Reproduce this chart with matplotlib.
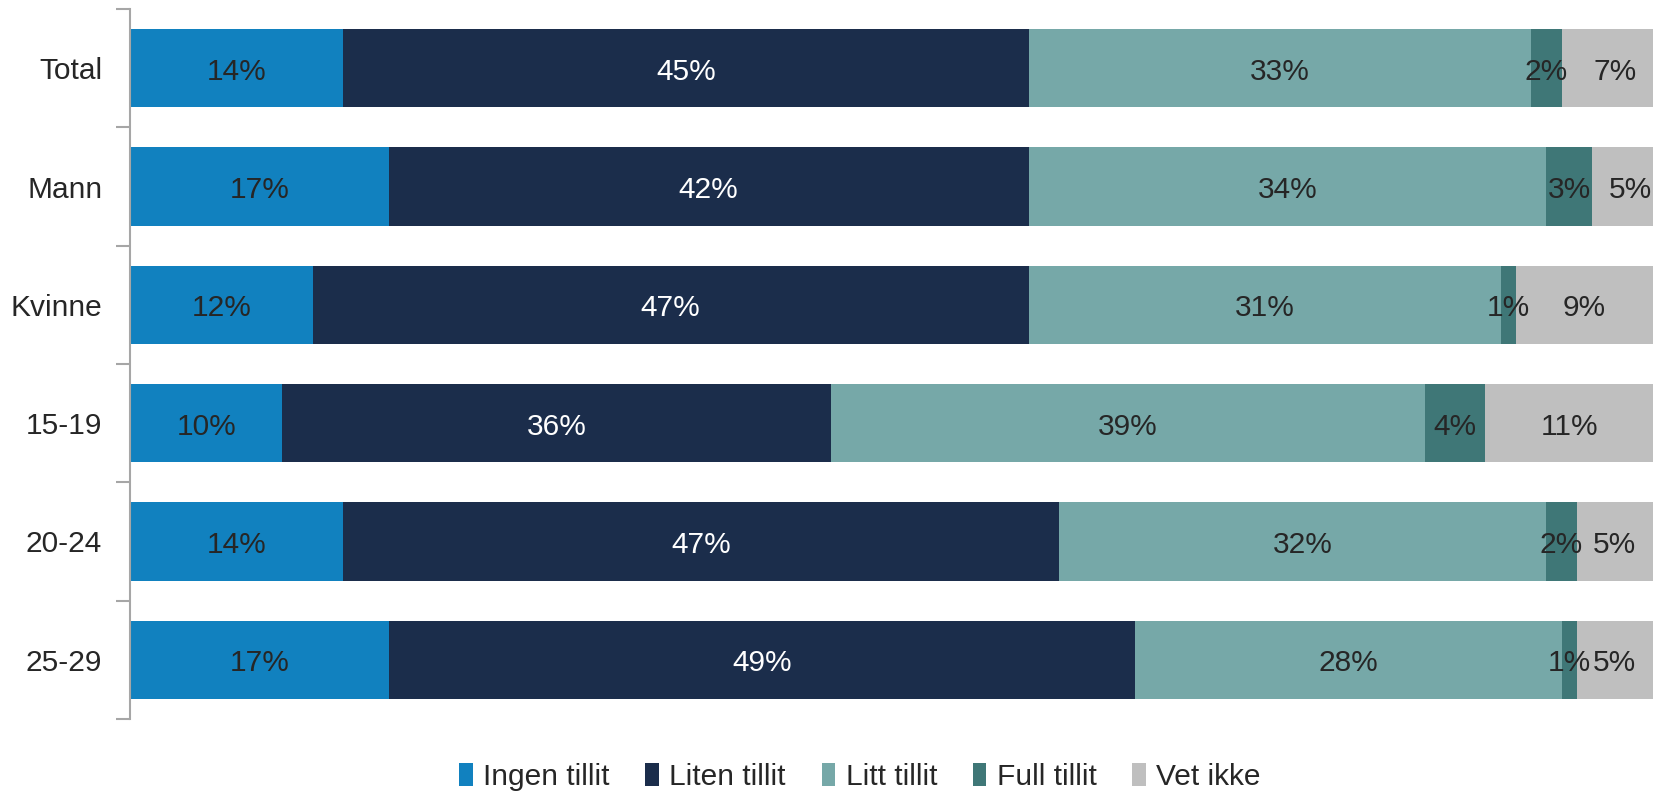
import matplotlib
matplotlib.use("Agg")
import matplotlib.pyplot as plt
from matplotlib.patches import Patch
import numpy as np

plt.rcParams['font.family'] = ['Liberation Sans', 'DejaVu Sans']

categories = ["Total", "Mann", "Kvinne", "15-19", "20-24", "25-29"]
series = ["Ingen tillit", "Liten tillit", "Litt tillit", "Full tillit", "Vet ikke"]
ingen = [14, 17, 12, 10, 14, 17]
liten = [45, 42, 47, 36, 47, 49]
litt = [33, 34, 31, 39, 32, 28]
full = [2, 3, 1, 4, 2, 1]
vet = [7, 5, 9, 11, 5, 5]
values = [ingen, liten, litt, full, vet]
colors = ["#1181BF", "#1B2D4B", "#76A8A8", "#3F7777", "#BFBFBF"]
label_colors = ["#262626", "white", "#262626", "#262626", "#262626"]

W, H = 1653, 791
fig = plt.figure(figsize=(W / 100, H / 100), dpi=100)
ax = fig.add_axes([130 / W, (H - 719) / H, 1 - 130 / W, (719 - 9) / H])

y = np.arange(len(categories))
left = np.zeros(len(categories))
for vals, col, lc in zip(values, colors, label_colors):
    vals = np.array(vals, dtype=float)
    ax.barh(y, vals, left=left, height=0.66, color=col, edgecolor='none')
    for yi, (l, v) in enumerate(zip(left, vals)):
        ax.text(l + v / 2, yi + 0.03, f"{int(v)}%", ha='center', va='center',
                fontsize=21.5, color=lc)
    left += vals

ax.set_xlim(0, 100)
ax.set_ylim(len(categories) - 0.5, -0.5)
ax.set_yticks(y)
ax.set_yticklabels(categories, fontsize=21.5, color='#262626')
ax.set_yticks(np.arange(-0.5, len(categories), 1), minor=True)
ax.tick_params(axis='y', which='major', length=0, pad=20)
ax.tick_params(axis='y', which='minor', length=10, width=1.5, color='#A6A6A6')
ax.set_xticks([])
for s in ['top', 'right', 'bottom']:
    ax.spines[s].set_visible(False)
ax.spines['left'].set_color('#A6A6A6')
ax.spines['left'].set_linewidth(1.5)

handles = [Patch(facecolor=c, edgecolor='none', label=s) for s, c in zip(series, colors)]
fig.legend(handles=handles, loc='center', bbox_to_anchor=(860 / W, (H - 777) / H),
           ncol=5, frameon=False, fontsize=21.5, handlelength=0.45, handleheight=0.8,
           handletextpad=0.35, columnspacing=1.2, labelcolor='#262626')

fig.savefig("out.png", dpi=100)
